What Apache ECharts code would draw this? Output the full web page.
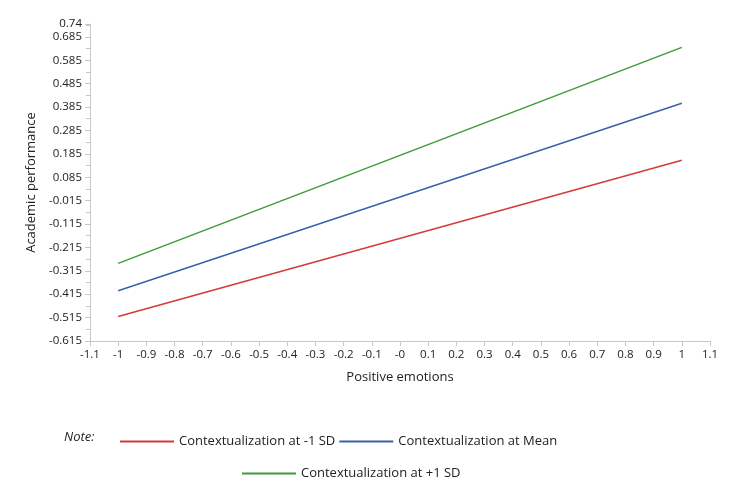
<!DOCTYPE html>
<html>
<head>
<meta charset="utf-8">
<script src="https://cdn.jsdelivr.net/npm/echarts@6/dist/echarts.min.js"></script>
<style>
  html, body { margin:0; padding:0; background:#fff; }
  #chart { width:751px; height:496px; }
</style>
</head>
<body>
<div id="chart"></div>
<script>
const xValues = [-1, 1]
const lowSD = [-0.51, 0.158]
const meanSD = [-0.40, 0.401]
const highSD = [-0.283, 0.640]
const seriesNames = ['Contextualization at -1 SD', 'Contextualization at Mean', 'Contextualization at +1 SD']
const seriesColors = ['#d43a3a', '#3c5fa8', '#3f9a3a']

function fmtY(v){
  return String(parseFloat(v.toFixed(3)))
}
function fmtX(v){
  if(Math.abs(v) < 1e-9) return '-0'
  return String(parseFloat(v.toFixed(2)))
}

const chart = echarts.init(document.getElementById('chart'), null, { renderer: 'canvas' })
const font = 'Open Sans, sans-serif'

chart.setOption({
  animation: false,
  textStyle: { fontFamily: font },
  grid: { left: 90, right: 41, top: 24, bottom: 155 },
  xAxis: {
    type: 'value', min: -1.1, max: 1.1, interval: 0.1,
    name: 'Positive emotions', nameLocation: 'middle', nameGap: 30,
    nameTextStyle: { color: '#222', fontSize: 13, fontFamily: font },
    axisLine: { onZero: false, lineStyle: { color: '#c8c8c8' } },
    axisTick: { show: true, lineStyle: { color: '#c8c8c8' } },
    axisLabel: { color: '#222', fontSize: 11.5, formatter: fmtX },
    splitLine: { show: false }
  },
  yAxis: {
    type: 'value', min: -0.615, max: 0.74, interval: 0.1,
    name: 'Academic performance', nameLocation: 'middle', nameGap: 52,
    nameTextStyle: { color: '#222', fontSize: 13, fontFamily: font },
    axisLine: { show: true, onZero: false, lineStyle: { color: '#c8c8c8' } },
    axisTick: { show: true, lineStyle: { color: '#c8c8c8' } },
    minorTick: { show: true, splitNumber: 2, length: 4, lineStyle: { color: '#c8c8c8' } },
    axisLabel: { color: '#222', fontSize: 11.5, formatter: fmtY },
    splitLine: { show: false }
  },
  legend: [
    { data: [seriesNames[0], seriesNames[1]], left: 115, top: 430, itemWidth: 54, itemHeight: 2, itemGap: 4, icon: 'rect',
      textStyle: { color: '#222', fontSize: 13, fontFamily: font } },
    { data: [seriesNames[2]], left: 237, top: 462, itemWidth: 54, itemHeight: 2, icon: 'rect',
      textStyle: { color: '#222', fontSize: 13, fontFamily: font } }
  ],
  graphic: [
    { type: 'text', left: 64, top: 431, style: { text: 'Note:', font: 'italic 13px Open Sans, sans-serif', fill: '#222' } }
  ],
  series: [lowSD, meanSD, highSD].map((vals, i) => ({
    name: seriesNames[i], type: 'line', showSymbol: false, symbol: 'none',
    lineStyle: { color: seriesColors[i], width: 1.5 }, itemStyle: { color: seriesColors[i] },
    data: xValues.map((x, j) => [x, vals[j]])
  }))
})
</script>
</body>
</html>
